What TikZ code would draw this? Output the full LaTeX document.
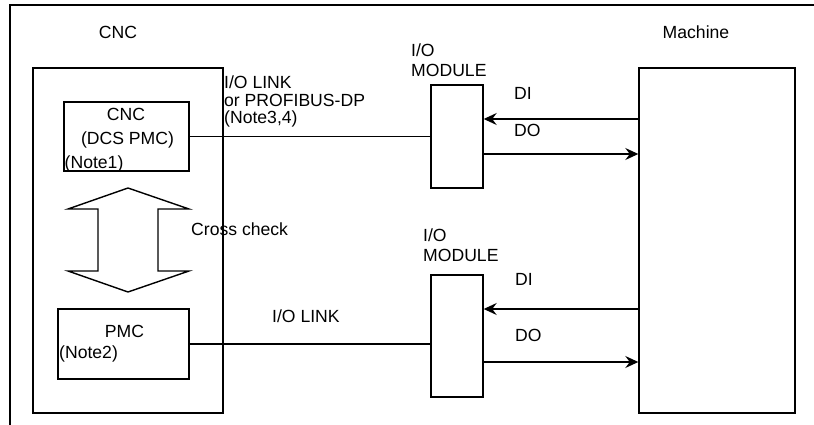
\documentclass[tikz,border=0pt]{standalone}
\usepackage{fontspec}
\setmainfont{Liberation Sans}
\usetikzlibrary{arrows.meta}
\begin{document}
\begin{tikzpicture}[x=1pt,y=-1pt,
  box/.style={draw, line width=1.4pt, inner sep=0pt, minimum width=#1},
  lbl/.style={inner sep=0pt, font=\fontsize{17.6}{18}\selectfont},
  conn/.style={line width=1.4pt},
  arr/.style={line width=1.4pt, -{Stealth[length=13pt,width=12pt,inset=4.5pt]}},
  framel/.style={line width=2.4pt}]
\useasboundingbox (0,0) rectangle (814,425);
% frame
\coordinate (ftl) at (10,5);
\coordinate (ftr) at (814,5);
\coordinate (fbl) at (10,425);
\draw[framel] (ftr) -- (ftl) -- (fbl);
% boxes
\node[box=190pt, minimum height=345pt] (cncouter) at (128,240.5) {};
\node[box=125pt, minimum height=69pt] (cncin) at (126.5,136.5) {};
\node[box=131pt, minimum height=70pt] (pmc) at (123.5,344) {};
\node[box=52pt, minimum height=103pt] (mod1) at (457,136.5) {};
\node[box=52pt, minimum height=122pt] (mod2) at (457,336) {};
\node[box=156pt, minimum height=345pt] (machine) at (717,240.5) {};
% double arrow (cross check)
\draw[line width=1.4pt, fill=white] (128,188) -- (68,209) -- (98,209) -- (98,271) -- (68,271) -- (128,292)
  -- (189,271) -- (158,271) -- (158,209) -- (189,209) -- cycle;
% labels
\node[lbl, anchor=base] (tcnc) at (118,39) {CNC};
\node[lbl, anchor=base] (tmach) at (696,39) {Machine};
\node[lbl, anchor=base] (c1) at (126,121) {CNC};
\node[lbl, anchor=base] (c2) at (127.5,145) {(DCS PMC)};
\node[lbl, anchor=base west] (c3) at (64.5,168) {(Note1)};
\node[lbl, anchor=base] (p1) at (124.5,337) {PMC};
\node[lbl, anchor=base west] (p2) at (59,358) {(Note2)};
\node[lbl, anchor=base west] (cc) at (191,235) {Cross check};
\node[lbl, anchor=base west] (l1) at (224,89) {I/O LINK};
\node[lbl, anchor=base west] (l2) at (224,106.5) {or PROFIBUS-DP};
\node[lbl, anchor=base west] (l3) at (224,124) {(Note3,4)};
\node[lbl, anchor=base west] (l4) at (272,322) {I/O LINK};
\node[lbl, anchor=base west] (m1a) at (411,57) {I/O};
\node[lbl, anchor=base west] (m1b) at (411,77) {MODULE};
\node[lbl, anchor=base west] (m2a) at (423,241) {I/O};
\node[lbl, anchor=base west] (m2b) at (423,261) {MODULE};
\node[lbl, anchor=base west] (di1t) at (514,100) {DI};
\node[lbl, anchor=base west] (do1t) at (514,137) {DO};
\node[lbl, anchor=base west] (di2t) at (515,285) {DI};
\node[lbl, anchor=base west] (do2t) at (515,341) {DO};
% connectors
\coordinate (y1di) at (0,119);
\coordinate (y1do) at (0,154);
\coordinate (y2di) at (0,309);
\coordinate (y2do) at (0,362);
\draw[conn] (cncin.east) -- (cncin.east -| mod1.west);
\draw[conn] (pmc.east) -- (pmc.east -| mod2.west);
\draw[arr] (machine.west |- y1di) -- (mod1.east |- y1di);
\draw[arr] (mod1.east |- y1do) -- (machine.west |- y1do);
\draw[arr] (machine.west |- y2di) -- (mod2.east |- y2di);
\draw[arr] (mod2.east |- y2do) -- (machine.west |- y2do);
\end{tikzpicture}
\end{document}
